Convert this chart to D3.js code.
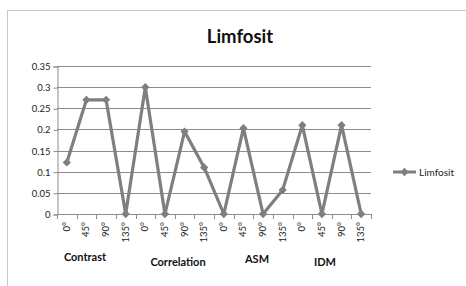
<!DOCTYPE html>
<html>
<head>
<meta charset="utf-8">
<script src="https://cdn.jsdelivr.net/npm/d3@7"></script>
<style>
  html, body { margin: 0; padding: 0; background: #fff; }
  svg { display: block; font-family: Lato, "Open Sans", sans-serif; }
</style>
</head>
<body>
<svg id="chart" width="466" height="286"></svg>
<script>
// data
const angles = ["0°", "45°", "90°", "135°", "0°", "45°", "90°", "135°",
                "0°", "45°", "90°", "135°", "0°", "45°", "90°", "135°"];
const limfosit = [0.122, 0.27, 0.27, 0, 0.30, 0, 0.195, 0.11,
                  0, 0.203, 0, 0.057, 0.21, 0, 0.21, 0];
const yTicks = [0, 0.05, 0.1, 0.15, 0.2, 0.25, 0.3, 0.35];
const groups = ["Contrast", "Correlation", "ASM", "IDM"];
const seriesName = "Limfosit";

const svg = d3.select("#chart");
const plotL = 57, plotR = 371, plotT = 66, plotB = 214;

// chart area border
svg.append("rect")
  .attr("x", 7.5).attr("y", 10.5)
  .attr("width", 470).attr("height", 290)
  .attr("fill", "none")
  .attr("stroke", "#c8c8c8");

svg.append("text")
  .attr("x", 240).attr("y", 43)
  .attr("text-anchor", "middle")
  .style("font-size", "18.5px")
  .style("font-weight", "bold")
  .attr("fill", "#111")
  .text(seriesName);

const x = d3.scaleBand()
  .domain(d3.range(angles.length))
  .range([plotL, plotR]);

const y = d3.scaleLinear()
  .domain([0, 0.35])
  .range([plotB, plotT]);

// gridlines
svg.append("g")
  .selectAll("line")
  .data(yTicks.slice(1))
  .join("line")
  .attr("x1", plotL).attr("x2", plotR)
  .attr("y1", d => Math.round(y(d)) + 0.5)
  .attr("y2", d => Math.round(y(d)) + 0.5)
  .attr("stroke", "#8c8c8c");

// y axis
const yAxis = svg.append("g")
  .attr("transform", `translate(${plotL + 0.5},0.5)`)
  .call(d3.axisLeft(y).tickValues(yTicks).tickSize(4).tickFormat(d => String(+d.toFixed(2))));
yAxis.select(".domain").attr("stroke", "#8c8c8c");
yAxis.selectAll(".tick line").attr("stroke", "#8c8c8c");
yAxis.selectAll("text")
  .attr("x", -7)
  .style("font-size", "9.5px")
  .style("font-family", "Lato, 'Open Sans', sans-serif")
  .attr("fill", "#222");

// x axis: ticks at category boundaries
const xg = svg.append("g");
xg.append("line")
  .attr("x1", plotL).attr("x2", plotR)
  .attr("y1", plotB + 0.5).attr("y2", plotB + 0.5)
  .attr("stroke", "#8c8c8c");
xg.selectAll(".bt")
  .data(d3.range(angles.length + 1))
  .join("line")
  .attr("class", "bt")
  .attr("x1", i => Math.round(plotL + i * x.step()) + 0.5)
  .attr("x2", i => Math.round(plotL + i * x.step()) + 0.5)
  .attr("y1", plotB).attr("y2", plotB + 5)
  .attr("stroke", "#8c8c8c");
xg.selectAll(".lab")
  .data(angles)
  .join("text")
  .attr("class", "lab")
  .attr("transform", (d, i) => `translate(${x(i) + x.bandwidth() / 2 + 3},${plotB + 8}) rotate(-90)`)
  .attr("text-anchor", "end")
  .style("font-size", "9.5px")
  .attr("fill", "#222")
  .text(d => d);

// group labels (manually placed text boxes)
const groupPos = [[85, 261], [178, 266], [257, 263], [325, 266]];
svg.selectAll(".grp")
  .data(groups)
  .join("text")
  .attr("class", "grp")
  .attr("x", (d, i) => groupPos[i][0])
  .attr("y", (d, i) => groupPos[i][1])
  .attr("text-anchor", "middle")
  .style("font-size", "11px")
  .style("font-weight", "bold")
  .attr("fill", "#111")
  .text(d => d);

// series line
const cx = i => x(i) + x.bandwidth() / 2;
const line = d3.line()
  .x((d, i) => cx(i))
  .y(d => y(d));

svg.append("path")
  .datum(limfosit)
  .attr("d", line)
  .attr("fill", "none")
  .attr("stroke", "#7f7f7f")
  .attr("stroke-width", 3.2)
  .attr("stroke-linejoin", "round");

const diamond = d3.symbol().type(d3.symbolDiamond2).size(44);
svg.selectAll(".mk")
  .data(limfosit)
  .join("path")
  .attr("class", "mk")
  .attr("transform", (d, i) => `translate(${cx(i)},${y(d)})`)
  .attr("d", diamond)
  .attr("fill", "#7f7f7f");

// legend
const lg = svg.append("g").attr("transform", "translate(393,172)");
lg.append("line")
  .attr("x1", 0).attr("x2", 23)
  .attr("stroke", "#7f7f7f").attr("stroke-width", 3);
lg.append("path")
  .attr("transform", "translate(11.5,0)")
  .attr("d", diamond)
  .attr("fill", "#7f7f7f");
lg.append("text")
  .attr("x", 26).attr("y", 3.5)
  .style("font-size", "10px")
  .attr("fill", "#222")
  .text(seriesName);
</script>
</body>
</html>
